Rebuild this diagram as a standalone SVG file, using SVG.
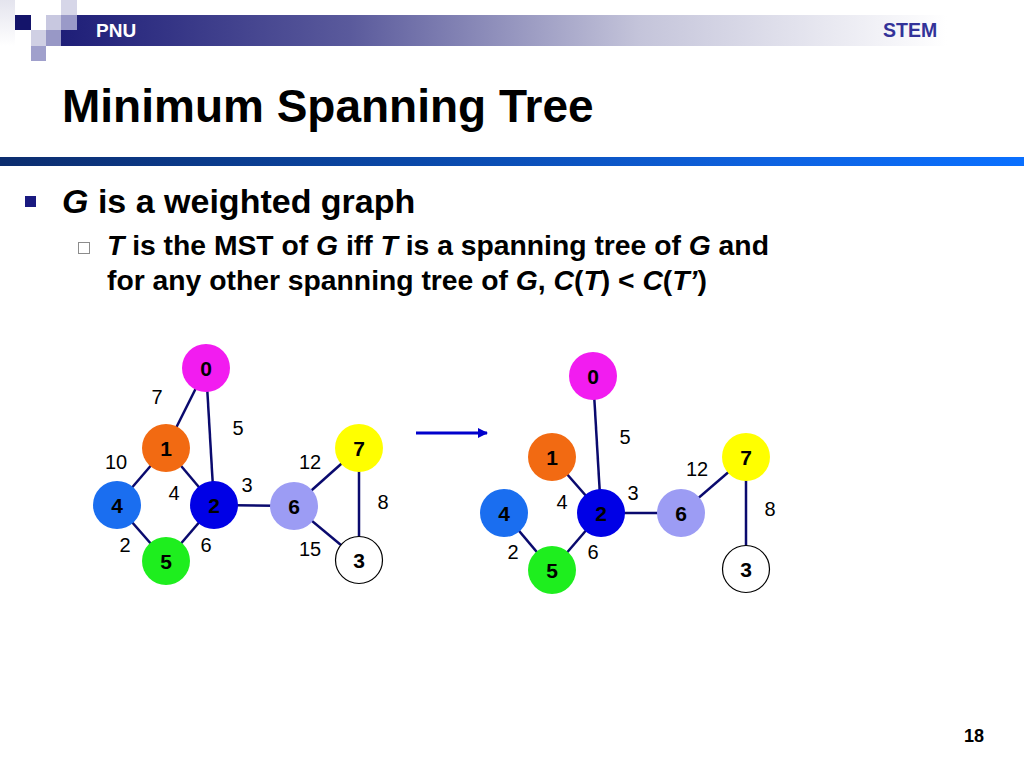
<svg xmlns="http://www.w3.org/2000/svg" width="1024" height="768" viewBox="0 0 1024 768">
<defs>
<linearGradient id="hdr" x1="61" y1="0" x2="1024" y2="0" gradientUnits="userSpaceOnUse">
<stop offset="0" stop-color="#1e1e78"/>
<stop offset="0.3" stop-color="#5a5a9c"/>
<stop offset="0.6" stop-color="#c4c4da"/>
<stop offset="0.92" stop-color="#ffffff"/>
</linearGradient>
<linearGradient id="fade" x1="0" y1="0" x2="0" y2="1">
<stop offset="0" stop-color="#e4e4ee"/>
<stop offset="1" stop-color="#ffffff"/>
</linearGradient>
<linearGradient id="rule" x1="0" y1="0" x2="1024" y2="0" gradientUnits="userSpaceOnUse">
<stop offset="0" stop-color="#0c2d6e"/>
<stop offset="0.4" stop-color="#0a48a8"/>
<stop offset="0.75" stop-color="#0e62e0"/>
<stop offset="1" stop-color="#0a70ff"/>
</linearGradient>
<marker id="ah" markerWidth="10" markerHeight="10" refX="9" refY="5" orient="auto" markerUnits="userSpaceOnUse">
<path d="M0,0 L10,5 L0,10 z" fill="#0000cc"/>
</marker>
</defs>
<style>
text{font-family:"Liberation Sans",Arial,sans-serif}
.edge{stroke:#0a0a6e;stroke-width:2.5;fill:none}
.nl{font-size:21px;font-weight:bold;text-anchor:middle;fill:#000}
.wl{font-size:20px;text-anchor:middle;fill:#000}
.b{font-weight:bold}
.i{font-style:italic}
</style>
<rect width="1024" height="768" fill="#ffffff"/>
<g id="header">
<rect x="0" y="0" width="15" height="46" fill="url(#fade)"/>
<rect x="61" y="15" width="963" height="31" fill="url(#hdr)"/>
<rect x="15" y="15" width="16" height="15" fill="#14146a"/>
<rect x="46" y="15" width="15" height="15" fill="#c8c8e0"/>
<rect x="61" y="0" width="16" height="15" fill="#d6d6e8"/>
<rect x="61" y="15" width="16" height="15" fill="#9a9ac8"/>
<rect x="31" y="30" width="15" height="16" fill="#d0d0e4"/>
<rect x="46" y="30" width="15" height="16" fill="#9898c6"/>
<rect x="31" y="46" width="15" height="15" fill="#a0a0cc"/>
<text x="96" y="37" font-size="19" font-weight="bold" fill="#ffffff">PNU</text>
<text x="883" y="37" font-size="19.5" font-weight="bold" fill="#333399">STEM</text>
</g>
<text x="62" y="122" font-size="46" font-weight="bold" fill="#000">Minimum Spanning Tree</text>
<rect x="0" y="157" width="1024" height="9" fill="url(#rule)"/>
<rect x="25" y="196" width="11" height="11" fill="#1a1a80"/>
<text x="62" y="213" font-size="34" class="b"><tspan class="i">G</tspan> is a weighted graph</text>
<rect x="78.5" y="242.5" width="11" height="11" fill="#fff" stroke="#8c8c8c" stroke-width="1"/>
<text x="107" y="255" font-size="28.3" class="b"><tspan class="i">T</tspan> is the MST of <tspan class="i">G</tspan> iff <tspan class="i">T</tspan> is a spanning tree of <tspan class="i">G</tspan> and</text>
<text x="107" y="290" font-size="28.3" class="b">for any other spanning tree of <tspan class="i">G</tspan>, <tspan class="i">C</tspan>(<tspan class="i">T</tspan>) &lt; <tspan class="i">C</tspan>(<tspan class="i">T’</tspan>)</text>

<g id="connectors-left">
<line class="edge" x1="206" y1="368" x2="166" y2="448"/>
<line class="edge" x1="206" y1="368" x2="214" y2="505"/>
<line class="edge" x1="166" y1="448" x2="117" y2="505"/>
<line class="edge" x1="166" y1="448" x2="214" y2="505"/>
<line class="edge" x1="117" y1="505" x2="166" y2="561"/>
<line class="edge" x1="214" y1="505" x2="166" y2="561"/>
<line class="edge" x1="214" y1="505" x2="294" y2="506"/>
<line class="edge" x1="294" y1="506" x2="359" y2="448"/>
<line class="edge" x1="294" y1="506" x2="359" y2="560"/>
<line class="edge" x1="359" y1="448" x2="359" y2="560"/>
</g>
<g id="weights-left">
<text class="wl" x="157" y="404">7</text>
<text class="wl" x="238" y="435">5</text>
<text class="wl" x="116" y="469">10</text>
<text class="wl" x="174" y="500">4</text>
<text class="wl" x="247" y="492">3</text>
<text class="wl" x="310" y="469">12</text>
<text class="wl" x="383" y="509">8</text>
<text class="wl" x="125" y="552">2</text>
<text class="wl" x="206" y="552">6</text>
<text class="wl" x="310" y="556">15</text>
</g>
<g id="L0"><circle cx="206" cy="368" r="24" fill="#f21cf0"/><text class="nl" x="206" y="375.5">0</text></g>
<g id="L1"><circle cx="166" cy="448" r="24" fill="#f26a12"/><text class="nl" x="166" y="455.5">1</text></g>
<g id="L4"><circle cx="117" cy="505" r="24" fill="#1a6ef0"/><text class="nl" x="117" y="512.5">4</text></g>
<g id="L2"><circle cx="214" cy="505" r="24" fill="#0000e6"/><text class="nl" x="214" y="512.5">2</text></g>
<g id="L5"><circle cx="166" cy="561" r="24" fill="#1eee1e"/><text class="nl" x="166" y="568.5">5</text></g>
<g id="L6"><circle cx="294" cy="506" r="24" fill="#9c9cf4"/><text class="nl" x="294" y="513.5">6</text></g>
<g id="L7"><circle cx="359" cy="448" r="24" fill="#ffff00"/><text class="nl" x="359" y="455.5">7</text></g>
<g id="L3"><circle cx="359" cy="560" r="23.5" fill="#ffffff" stroke="#000" stroke-width="1.2"/><text class="nl" x="359" y="567.5">3</text></g>

<g id="arrow">
<line x1="416" y1="433" x2="487" y2="433" stroke="#0000cc" stroke-width="3" marker-end="url(#ah)"/>
</g>

<g id="connectors-right">
<line class="edge" x1="593" y1="376" x2="601" y2="513"/>
<line class="edge" x1="552" y1="457" x2="601" y2="513"/>
<line class="edge" x1="504" y1="513" x2="552" y2="570"/>
<line class="edge" x1="601" y1="513" x2="552" y2="570"/>
<line class="edge" x1="601" y1="513" x2="681" y2="513"/>
<line class="edge" x1="681" y1="513" x2="746" y2="457"/>
<line class="edge" x1="746" y1="457" x2="746" y2="569"/>
</g>
<g id="weights-right">
<text class="wl" x="625" y="444">5</text>
<text class="wl" x="697" y="476">12</text>
<text class="wl" x="562" y="509">4</text>
<text class="wl" x="633" y="500">3</text>
<text class="wl" x="770" y="516">8</text>
<text class="wl" x="513" y="559">2</text>
<text class="wl" x="593" y="559">6</text>
</g>
<g id="R0"><circle cx="593" cy="376" r="24" fill="#f21cf0"/><text class="nl" x="593" y="383.5">0</text></g>
<g id="R1"><circle cx="552" cy="457" r="24" fill="#f26a12"/><text class="nl" x="552" y="464.5">1</text></g>
<g id="R4"><circle cx="504" cy="513" r="24" fill="#1a6ef0"/><text class="nl" x="504" y="520.5">4</text></g>
<g id="R2"><circle cx="601" cy="513" r="24" fill="#0000e6"/><text class="nl" x="601" y="520.5">2</text></g>
<g id="R5"><circle cx="552" cy="570" r="24" fill="#1eee1e"/><text class="nl" x="552" y="577.5">5</text></g>
<g id="R6"><circle cx="681" cy="513" r="24" fill="#9c9cf4"/><text class="nl" x="681" y="520.5">6</text></g>
<g id="R7"><circle cx="746" cy="457" r="24" fill="#ffff00"/><text class="nl" x="746" y="464.5">7</text></g>
<g id="R3"><circle cx="746" cy="569" r="23.5" fill="#ffffff" stroke="#000" stroke-width="1.2"/><text class="nl" x="746" y="576.5">3</text></g>

<text x="984" y="742" font-size="18" font-weight="bold" text-anchor="end" fill="#000">18</text>
</svg>
